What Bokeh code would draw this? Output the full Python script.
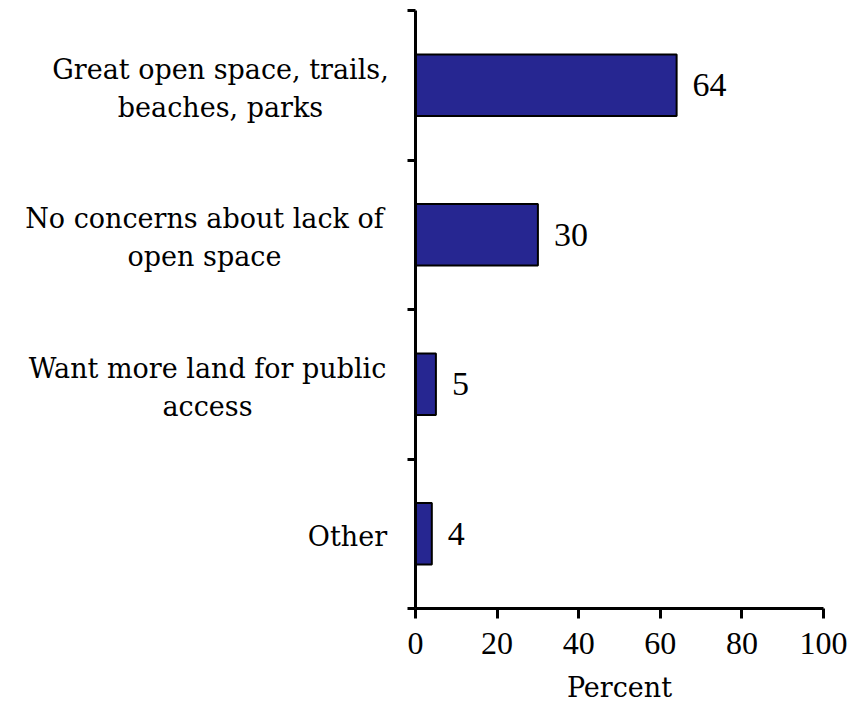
from bokeh.plotting import figure
from bokeh.layouts import row
from bokeh.models import Range1d, FixedTicker, ColumnDataSource
from bokeh.embed import file_html
from bokeh.resources import INLINE
from bokeh.core.properties import value

categories = ["Great open space, trails,\nbeaches, parks",
              "No concerns about lack of\nopen space",
              "Want more land for public\naccess",
              "Other"]
percents = [64, 30, 5, 4]
x_ticks = [0, 20, 40, 60, 80, 100]
x_label = "Percent"

# horizontal centres (px within the label panel) of each category text block
label_centers = [220, 204, 207, 347]

n = len(categories)
ypos = [n - i - 0.5 for i in range(n)]
src = ColumnDataSource(dict(y=ypos, v=percents, t=[str(v) for v in percents]))
lab_src = ColumnDataSource(dict(x=label_centers, y=ypos, t=categories))

SERIF = "Liberation Serif"
WIDE = "DejaVu Serif"
H = 705
TOP = 10
BOTTOM = 97
LEFT_W = 400

p = figure(width=852 - LEFT_W, height=H, output_backend="svg", toolbar_location=None,
           x_range=Range1d(0, 100), y_range=Range1d(0, n),
           min_border_left=415 - LEFT_W, min_border_right=29, min_border_top=TOP,
           outline_line_color=None, background_fill_color="white")
p.grid.visible = False

p.hbar(y="y", right="v", left=0, height=0.41, source=src,
       fill_color="#262691", line_color="black", line_width=2)
p.text(x="v", y="y", text="t", source=src, x_offset=16,
       text_font=value(SERIF), text_font_size="34px",
       text_align="left", text_baseline="middle", text_color="black")

xa = p.xaxis[0]
xa.ticker = FixedTicker(ticks=x_ticks)
xa.axis_label = x_label
xa.axis_line_width = 3
xa.major_tick_line_width = 3
xa.major_tick_in = 0
xa.major_tick_out = 10
xa.minor_tick_line_color = None
xa.major_label_text_font = SERIF
xa.major_label_text_font_size = "32px"
xa.major_label_text_color = "black"
xa.major_label_standoff = 14
xa.axis_label_text_font = WIDE
xa.axis_label_text_font_size = "27px"
xa.axis_label_text_font_style = "normal"
xa.axis_label_text_color = "black"
xa.axis_label_standoff = 15

ya = p.yaxis[0]
ya.ticker = FixedTicker(ticks=[], minor_ticks=list(range(n + 1)))
ya.axis_line_width = 3
ya.major_tick_line_color = None
ya.major_label_standoff = 0
ya.minor_tick_line_width = 3
ya.minor_tick_in = 0
ya.minor_tick_out = 8

# label panel sharing the y range
lp = figure(width=LEFT_W, height=H, output_backend="svg", toolbar_location=None,
            x_range=Range1d(0, LEFT_W), y_range=p.y_range,
            x_axis_location=None, y_axis_location=None,
            min_border_left=0, min_border_right=0, min_border_top=TOP,
            min_border_bottom=BOTTOM, outline_line_color=None)
lp.grid.visible = False
lp.text(x="x", y="y", text="t", source=lab_src, y_offset=3,
        text_font=value(WIDE), text_font_size="27px", text_color="black",
        text_align="center", text_baseline="middle", text_line_height=1.23)

layout = row(lp, p, spacing=0)
open("out.html", "w").write(file_html(layout, INLINE))
